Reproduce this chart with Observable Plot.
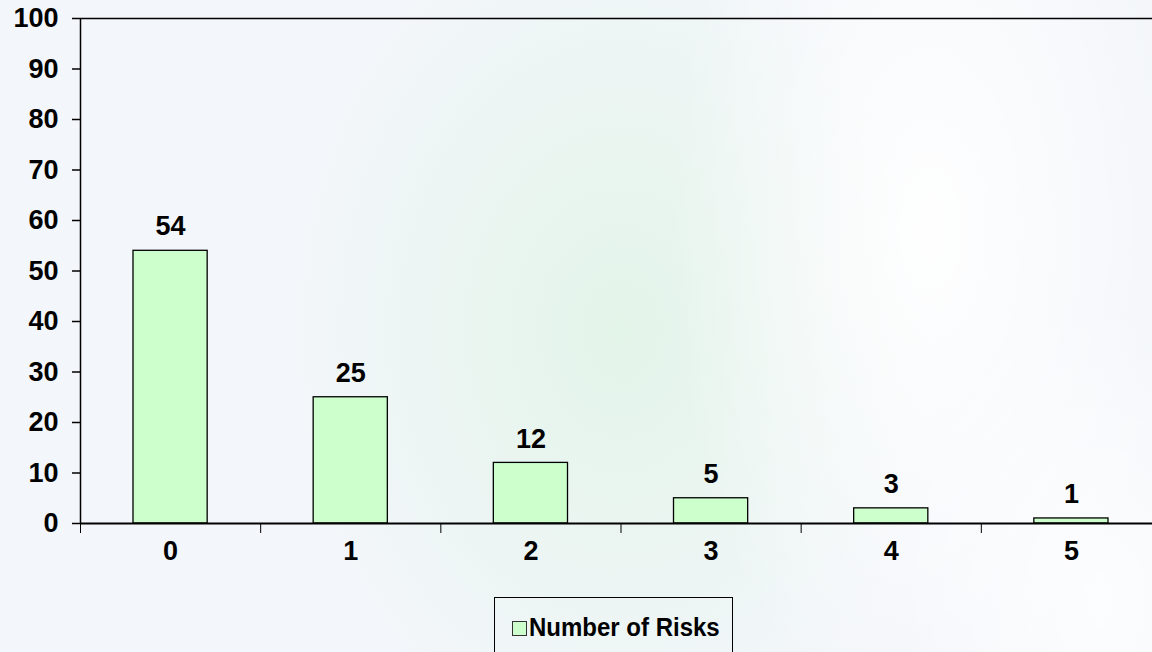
<!DOCTYPE html>
<html><head><meta charset="utf-8">
<script src="https://cdn.jsdelivr.net/npm/d3@7"></script>
<script src="https://cdn.jsdelivr.net/npm/@observablehq/plot@0.6"></script>
<style>
html,body{margin:0;padding:0;}
body{width:1152px;height:652px;overflow:hidden;background:#f3f6fa;font-family:"Liberation Sans",Arial,sans-serif;}
#wrap{position:relative;width:1152px;height:652px;overflow:hidden;}
#bg{position:absolute;left:0;top:0;width:1152px;height:652px;
 background:
  radial-gradient(ellipse 260px 520px at 930px 230px, rgba(255,255,255,0.95), rgba(255,255,255,0) 100%),
  radial-gradient(ellipse 330px 430px at 620px 330px, rgba(226,244,232,0.95), rgba(226,244,232,0) 100%),
  radial-gradient(ellipse 200px 300px at 1100px 600px, rgba(255,255,255,0.8), rgba(255,255,255,0) 100%);}
#chart{position:absolute;left:0;top:0;}
#legend{position:absolute;left:494px;top:597px;width:239px;height:70px;border:1.5px solid #000;box-sizing:border-box;
 font-weight:bold;font-size:24px;color:#000;}
#legend .sw{position:absolute;left:17px;top:23px;width:13px;height:13px;background:#ccffcc;border:1.2px solid #333;}
#legend .lb{position:absolute;left:34px;top:14px;white-space:nowrap;transform:scaleY(1.08);transform-origin:left top;}
</style></head>
<body>
<div id="wrap"><div id="bg"></div><div id="chart"></div>
<div id="legend"><div class="sw"></div><div class="lb"></div></div></div>
<script>
const categories = ["0", "1", "2", "3", "4", "5"];
const values = [54, 25, 12, 5, 3, 1];
const yTicks = [0, 10, 20, 30, 40, 50, 60, 70, 80, 90, 100];
const seriesName = "Number of Risks";

const data = categories.map((c, i) => ({i, cat: c, value: values[i]}));
const bounds = d3.range(categories.length + 1);
const font = {fontWeight: "bold", fontSize: 27};

const chart = Plot.plot({
  width: 1152,
  height: 597,
  marginTop: 18,
  marginBottom: 74,
  marginLeft: 80,
  marginRight: 0,
  style: {background: "transparent", fontFamily: "'Liberation Sans', Arial, sans-serif", fontSize: "27px", fontWeight: "bold", color: "#000", overflow: "visible"},
  x: {domain: [0, categories.length], range: [80, 1161], axis: null},
  y: {domain: [0, 100], range: [523, 18], axis: null},
  marks: [
    Plot.ruleY([100], {x1: 0, x2: categories.length, stroke: "#000", strokeWidth: 1.5}),
    Plot.rectY(data, {x1: d => d.i, x2: d => d.i + 1, y: "value", insetLeft: 53, insetRight: 53, fill: "#ccffcc", stroke: "#000", strokeWidth: 1.3}),
    Plot.ruleX([0], {y1: 0, y2: 100, stroke: "#000", strokeWidth: 1.5}),
    Plot.ruleY([0], {x1: 0, x2: categories.length, stroke: "#000", strokeWidth: 2}),
    Plot.axisY({ticks: yTicks, tickSize: 8, tickPadding: 14, tickFormat: d => String(d), label: null, ...font, strokeWidth: 1.5}),
    Plot.axisX({ticks: bounds, tickSize: 10, tickFormat: () => "", label: null, strokeWidth: 1}),
    Plot.text(data, {x: d => d.i + 0.5, y: 0, dy: 28, text: "cat", ...font}),
    Plot.text(data, {x: d => d.i + 0.5, y: "value", dy: -24, text: d => String(d.value), ...font})
  ]
});
document.getElementById("chart").appendChild(chart);
document.querySelector("#legend .lb").textContent = seriesName;
</script>
</body></html>
